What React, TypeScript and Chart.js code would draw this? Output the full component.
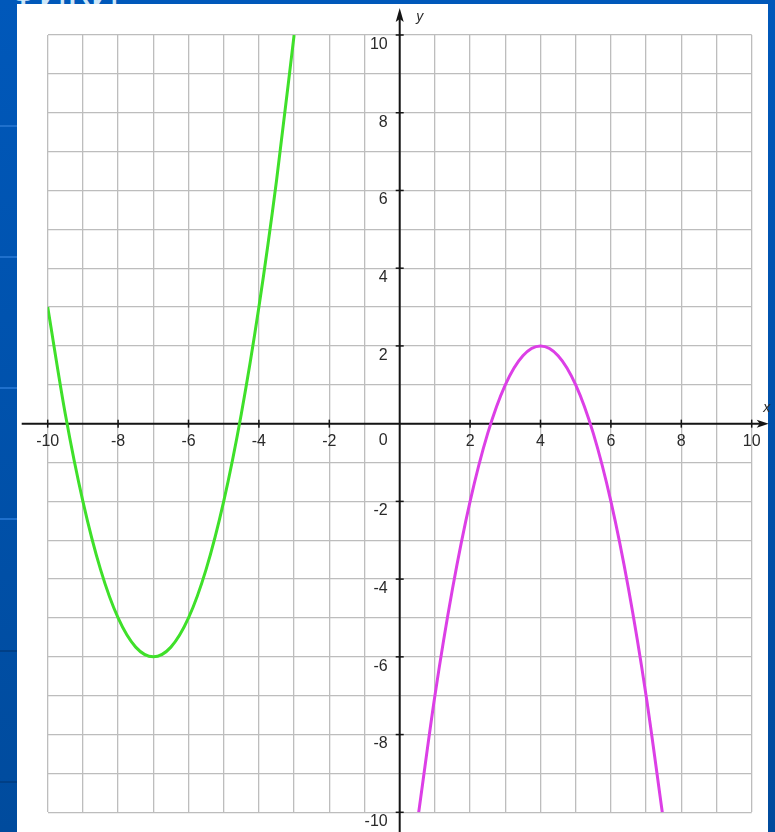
import React, { useEffect, useRef } from "react";
import { Chart, registerables } from "chart.js";

Chart.register(...registerables);

// Green curve (left parabola)
const GREEN_X = [-10, -9.5, -9, -8.5, -8, -7.5, -7, -6.5, -6, -5.5, -5, -4.5, -4, -3.5, -3];
const GREEN_Y = [3, 0.25, -2, -3.75, -5, -5.75, -6, -5.75, -5, -3.75, -2, 0.25, 3, 6.25, 10];

// Magenta curve (right parabola)
const MAGENTA_X = [0.54, 1, 1.5, 2, 2.5, 3, 3.5, 4, 4.5, 5, 5.5, 6, 6.5, 7, 7.46];
const MAGENTA_Y = [-10, -7, -4.25, -2, -0.25, 1, 1.75, 2, 1.75, 1, -0.25, -2, -4.25, -7, -10];

// Axis tick labels
const X_TICKS = [-10, -8, -6, -4, -2, 2, 4, 6, 8, 10];
const Y_TICKS = [10, 8, 6, 4, 2, -2, -4, -6, -8, -10];
const ORIGIN_LABEL = "0";
const X_AXIS_NAME = "x";
const Y_AXIS_NAME = "y";

const AXIS_MIN = -10;
const AXIS_MAX = 10;

const FONT = '16px "Liberation Sans", Arial, sans-serif';
const NAME_FONT = 'italic 14px "Liberation Sans", Arial, sans-serif';

const axesPlugin = {
  id: "centerAxes",
  beforeDatasetsDraw(chart: any) {
    const { ctx } = chart;
    const xs = chart.scales.x;
    const ys = chart.scales.y;
    const x0 = xs.getPixelForValue(0);
    const y0 = ys.getPixelForValue(0);
    ctx.save();
    ctx.strokeStyle = "#151515";
    ctx.fillStyle = "#151515";
    ctx.lineWidth = 2;
    // x axis line
    ctx.beginPath();
    ctx.moveTo(xs.left - 26, y0);
    ctx.lineTo(xs.right + 10, y0);
    ctx.stroke();
    // x arrow
    ctx.beginPath();
    ctx.moveTo(xs.right + 17, y0);
    ctx.lineTo(xs.right + 5, y0 - 4);
    ctx.lineTo(xs.right + 8, y0);
    ctx.lineTo(xs.right + 5, y0 + 4);
    ctx.closePath();
    ctx.fill();
    // y axis line
    ctx.beginPath();
    ctx.moveTo(x0, chart.height);
    ctx.lineTo(x0, ys.top - 18);
    ctx.stroke();
    // y arrow
    ctx.beginPath();
    ctx.moveTo(x0, ys.top - 27);
    ctx.lineTo(x0 - 4, ys.top - 13);
    ctx.lineTo(x0, ys.top - 16);
    ctx.lineTo(x0 + 4, ys.top - 13);
    ctx.closePath();
    ctx.fill();

    // tick marks
    ctx.lineWidth = 1.5;
    X_TICKS.forEach((v) => {
      const px = xs.getPixelForValue(v);
      ctx.beginPath();
      ctx.moveTo(px, y0 - 4);
      ctx.lineTo(px, y0 + 4);
      ctx.stroke();
    });
    Y_TICKS.forEach((v) => {
      const py = ys.getPixelForValue(v);
      ctx.beginPath();
      ctx.moveTo(x0 - 4, py);
      ctx.lineTo(x0 + 4, py);
      ctx.stroke();
    });

    // tick labels
    ctx.fillStyle = "#2a2a2a";
    ctx.font = FONT;
    ctx.textBaseline = "middle";
    ctx.textAlign = "center";
    X_TICKS.forEach((v) => {
      const px = xs.getPixelForValue(v);
      ctx.fillText(String(v), px, y0 + 18);
    });
    ctx.textAlign = "right";
    Y_TICKS.forEach((v) => {
      const py = ys.getPixelForValue(v);
      ctx.fillText(String(v), x0 - 12, py + 9.5);
    });
    ctx.fillText(ORIGIN_LABEL, x0 - 12, y0 + 17);

    // axis names
    ctx.font = NAME_FONT;
    ctx.textAlign = "center";
    ctx.fillText(X_AXIS_NAME, xs.right + 15, y0 - 16);
    ctx.fillText(Y_AXIS_NAME, x0 + 20, ys.top - 18);
    ctx.restore();
  },
};

export default function App() {
  const canvasRef = useRef<HTMLCanvasElement | null>(null);

  useEffect(() => {
    const canvas = canvasRef.current;
    if (!canvas) return;
    const chart = new Chart(canvas, {
      type: "line",
      data: {
        datasets: [
          {
            label: "green",
            data: GREEN_X.map((x, i) => ({ x, y: GREEN_Y[i] })),
            borderColor: "#3fe02a",
            borderWidth: 3,
            pointRadius: 0,
            cubicInterpolationMode: "monotone",
            fill: false,
          },
          {
            label: "magenta",
            data: MAGENTA_X.map((x, i) => ({ x, y: MAGENTA_Y[i] })),
            borderColor: "#dc3fe6",
            borderWidth: 3,
            pointRadius: 0,
            cubicInterpolationMode: "monotone",
            fill: false,
          },
        ],
      },
      options: {
        responsive: false,
        animation: false,
        devicePixelRatio: 1,
        layout: { padding: { left: 47.7, right: 23.3, top: 35, bottom: 19.7 } },
        plugins: { legend: { display: false }, tooltip: { enabled: false } },
        scales: {
          x: {
            type: "linear",
            min: AXIS_MIN,
            max: AXIS_MAX,
            ticks: { display: false, stepSize: 1 },
            border: { display: false },
            grid: { color: "#bdbdbd", lineWidth: 1.3, drawTicks: false },
          },
          y: {
            type: "linear",
            min: AXIS_MIN,
            max: AXIS_MAX,
            ticks: { display: false, stepSize: 1 },
            border: { display: false },
            grid: { color: "#bdbdbd", lineWidth: 1.3, drawTicks: false },
          },
        },
      },
      plugins: [axesPlugin],
    } as any);
    return () => chart.destroy();
  }, []);

  const stripLines = [
    { y: 125, c: "#1f70cc" },
    { y: 256, c: "#1f70cc" },
    { y: 387, c: "#1f70cc" },
    { y: 518, c: "#1f70cc" },
    { y: 650, c: "#003f86" },
    { y: 781, c: "#003f86" },
  ];

  return (
    <div
      style={{
        position: "fixed",
        left: 0,
        top: 0,
        width: 775,
        height: 832,
        overflow: "hidden",
        background: "linear-gradient(#0058ba, #004b9d)",
      }}
    >
      <div
        style={{
          position: "absolute",
          left: 8,
          top: -31,
          color: "#cfe7f8",
          font: '40px "Liberation Sans", Arial, sans-serif',
          whiteSpace: "nowrap",
        }}
      >
        ФИКИ
      </div>
      {stripLines.map((l, i) => (
        <div
          key={i}
          style={{ position: "absolute", left: 0, top: l.y, width: 17, height: 2, background: l.c }}
        />
      ))}
      <div
        style={{ position: "absolute", left: 17, top: 4, width: 751, height: 828, background: "#ffffff" }}
      />
      <canvas
        ref={canvasRef}
        width={775}
        height={832}
        style={{ position: "absolute", left: 0, top: 0, width: 775, height: 832 }}
      />
    </div>
  );
}
